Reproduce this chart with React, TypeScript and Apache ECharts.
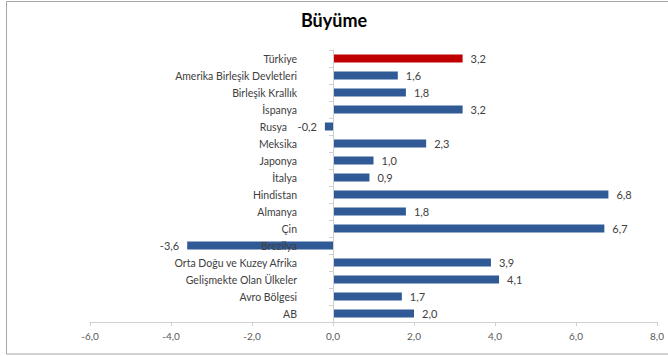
import React, { useEffect, useRef } from "react";
import * as echarts from "echarts";

const categories = [
  "Türkiye",
  "Amerika Birleşik Devletleri",
  "Birleşik Krallık",
  "İspanya",
  "Rusya",
  "Meksika",
  "Japonya",
  "İtalya",
  "Hindistan",
  "Almanya",
  "Çin",
  "Brezilya",
  "Orta Doğu ve Kuzey Afrika",
  "Gelişmekte Olan Ülkeler",
  "Avro Bölgesi",
  "AB",
];
const values = [3.2, 1.6, 1.8, 3.2, -0.2, 2.3, 1.0, 0.9, 6.8, 1.8, 6.7, -3.6, 3.9, 4.1, 1.7, 2.0];
const highlight = "Türkiye";
const title = "Büyüme";
const xMin = -6;
const xMax = 8;
const xStep = 2;

const BLUE = "#2F5A96";
const RED = "#C00000";
const FONT = "Lato";

const GRID_LEFT = 90;
const GRID_RIGHT = 11;
const WIDTH = 668;

const fmt = (v: number) => v.toFixed(1).replace(".", ",");

export default function App() {
  const ref = useRef<HTMLDivElement>(null);
  useEffect(() => {
    if (!ref.current) return;
    const chart = echarts.init(ref.current, undefined, { renderer: "svg" });
    const plotW = WIDTH - GRID_LEFT - GRID_RIGHT;
    const zeroOffset = ((0 - xMin) / (xMax - xMin)) * plotW;
    // small negative bars: their value label sits next to the category label, so nudge it aside
    const catData = categories.map((c, i) =>
      values[i] < 0 && values[i] > -1
        ? { value: c, textStyle: { padding: [0, 10, 0, 0] } }
        : c
    );
    chart.setOption({
      animation: false,
      backgroundColor: "#ffffff",
      title: {
        text: title,
        left: "center",
        top: 6,
        textStyle: { fontFamily: FONT, fontSize: 18, fontWeight: "bold", color: "#000000" },
      },
      graphic: [
        {
          type: "rect",
          shape: { x: 6.5, y: 1.5, width: 680, height: 352.5 },
          style: { fill: "none", stroke: "#A6A6A6", lineWidth: 1 },
          silent: true,
        },
      ],
      grid: {
        left: GRID_LEFT,
        right: GRID_RIGHT,
        top: 50,
        bottom: 34,
        containLabel: false,
        outerBoundsMode: "none",
      },
      xAxis: {
        type: "value",
        min: xMin,
        max: xMax,
        interval: xStep,
        splitLine: { show: false },
        axisLine: { show: true, lineStyle: { color: "#D0D0D0" } },
        axisTick: { show: true, length: 4, lineStyle: { color: "#D0D0D0" } },
        axisLabel: {
          formatter: (v: number) => fmt(v),
          fontFamily: FONT,
          fontSize: 10,
          color: "#595959",
          margin: 9,
        },
      },
      yAxis: {
        type: "category",
        data: catData,
        inverse: true,
        z: 5,
        offset: -zeroOffset,
        axisLine: { show: true, onZero: false, lineStyle: { color: "#D0D0D0" } },
        axisTick: { show: true, length: 4, lineStyle: { color: "#D0D0D0" } },
        axisLabel: {
          fontFamily: FONT,
          fontSize: 10.5,
          color: "#404040",
          margin: 36,
        },
      },
      series: [
        {
          type: "bar",
          barWidth: 8,
          data: values.map((v, i) => ({
            value: v,
            itemStyle: { color: categories[i] === highlight ? RED : BLUE },
            label: { position: v < 0 ? "left" : "right" },
          })),
          label: {
            show: true,
            distance: 8,
            fontFamily: FONT,
            fontSize: 11,
            color: "#404040",
            formatter: (p: any) => fmt(p.value),
          },
        },
      ],
    });
    return () => chart.dispose();
  }, []);
  return (
    <div
      ref={ref}
      style={{ position: "fixed", left: 0, top: 0, width: WIDTH, height: 356 }}
    />
  );
}
